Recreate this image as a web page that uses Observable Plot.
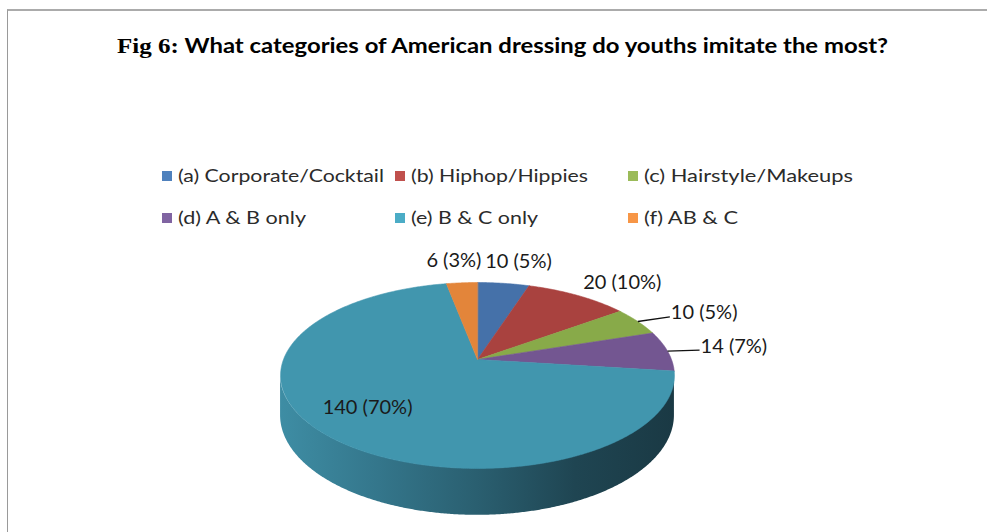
<!DOCTYPE html>
<html><head><meta charset="utf-8">
<script src="https://cdn.jsdelivr.net/npm/d3@7"></script>
<script src="https://cdn.jsdelivr.net/npm/@observablehq/plot@0.6"></script>
<style>
html,body{margin:0;padding:0;background:#fff;}
#page{position:relative;width:987px;height:532px;overflow:hidden;font-family:Lato,sans-serif;}
#frame{position:absolute;left:7px;top:9px;width:990px;height:600px;border-left:1px solid #9a9a9a;border-top:2px solid #ababab;}
#title{position:absolute;white-space:nowrap;font-weight:bold;color:#000;transform-origin:0 0;}
.fig{font-family:"Liberation Serif",serif;}
.leg{position:absolute;white-space:nowrap;color:#2b2b2b;transform-origin:0 0;}
.sw{position:absolute;width:10px;height:10px;}
#chart{position:absolute;left:0;}
</style></head><body><div id="page"><div id="frame"></div><div id="title"></div><div id="legend"></div><div id="chart"></div></div>
<script>
// ---- data ----
const categories = ["(a) Corporate/Cocktail", "(b) Hiphop/Hippies", "(c) Hairstyle/Makeups", "(d) A & B only", "(e) B & C only", "(f) AB & C"];
const counts = [10, 20, 10, 14, 140, 6];
const percents = [5, 10, 5, 7, 70, 3];
const legendColors = ["#4F81BD", "#C0504D", "#9BBB59", "#8064A2", "#4BACC6", "#F79646"];
const topColors = ["#4571a9", "#a9423f", "#88aa49", "#735691", "#4196ae", "#e3853a"];
const sideStops = ["#3e8da4", "#34768b", "#2a5f70", "#1f4552", "#1a3944"];
const titlePrefix = "Fig 6:";
const titleText = "What categories of American dressing do youths imitate the most?";
const labels = counts.map((c, i) => `${c} (${percents[i]}%)`);

// ---- layout ----
const L = {
  W: 987, cx: 477, cy: 359, r: 194, tilt: 0.465, persp: 0.172, depth: 0.2,
  svgTop: 240, svgH: 292,
  title: {x: 117, baseline: 53, width: 771, size: 21, figSize: 22},
  legend: {cols: [162, 395, 628], rows: [183, 225], textDx: 16, size: 16.5, widths: [206, 177, 209, 128, 127, 94]},
  labelSize: 20
};

// ---- title ----
const tEl = document.getElementById("title");
tEl.style.fontSize = L.title.size + "px";
tEl.style.lineHeight = L.title.size + "px";
const fig = document.createElement("span"); fig.className = "fig"; fig.style.fontSize = L.title.figSize + "px"; fig.textContent = titlePrefix;
tEl.appendChild(fig);
tEl.appendChild(document.createTextNode(" " + titleText));
tEl.style.left = L.title.x + "px";
tEl.style.top = (L.title.baseline - 0.887 * L.title.size) + "px";
tEl.style.transform = `scaleX(${L.title.width / tEl.getBoundingClientRect().width})`;

// ---- legend ----
const legEl = document.getElementById("legend");
categories.forEach((c, i) => {
  const col = L.legend.cols[i % 3], base = L.legend.rows[Math.floor(i / 3)];
  const sw = document.createElement("div"); sw.className = "sw";
  sw.style.background = legendColors[i]; sw.style.left = col + "px"; sw.style.top = (base - 12) + "px";
  legEl.appendChild(sw);
  const t = document.createElement("div"); t.className = "leg"; t.textContent = c;
  t.style.fontSize = L.legend.size + "px"; t.style.lineHeight = L.legend.size + "px";
  t.style.left = (col + L.legend.textDx) + "px"; t.style.top = (base - 0.887 * L.legend.size) + "px";
  legEl.appendChild(t);
  t.style.transform = `scaleX(${L.legend.widths[i] / t.getBoundingClientRect().width})`;
});

// ---- pie geometry (derived from the data) ----
const total = d3.sum(counts);
const TAU = 2 * Math.PI;
function proj(theta, r, drop = 0) {
  const c = Math.cos(theta), s = Math.sin(theta);
  const f = 1 / (1 + L.persp * r * c);
  return [r * s * f, -r * c * f * L.tilt + drop * f];
}
let acc = 0;
const slices = counts.map((v, i) => {
  const a0 = acc / total * TAU; acc += v; const a1 = acc / total * TAU;
  return {i, cat: categories[i], a0, a1, mid: (a0 + a1) / 2, frac: v / total};
});
const wedgePts = [];
for (const s of slices) {
  wedgePts.push({cat: s.cat, x: 0, y: 0});
  const n = Math.max(2, Math.ceil((s.a1 - s.a0) / (Math.PI / 360)));
  for (let k = 0; k <= n; k++) {
    const t = s.a0 + (s.a1 - s.a0) * k / n;
    const [x, y] = proj(t, 1);
    wedgePts.push({cat: s.cat, x, y});
  }
}
const thR = Math.acos(-L.persp), thL = TAU - thR;
const side = d3.range(0, 401).map(k => {
  const t = thR + (thL - thR) * k / 400;
  const [x, y] = proj(t, 1);
  const [, yb] = proj(t, 1, L.depth);
  return {x, y1: y, y2: yb};
});

const px = 1 / L.r;
const ctx = document.createElement("canvas").getContext("2d");
ctx.font = `${L.labelSize}px Lato`;
const midLabels = [], startLabels = [], leaders = [];
for (const s of slices) {
  const text = labels[s.i];
  if (s.frac > 0.5) {
    const [x, y] = proj(s.mid, 0.75);
    midLabels.push({x, y: y - 6 * px, text});
  } else if (Math.sin(s.mid) > 0.8) {
    const [x, y] = proj(s.mid, 1);
    const x2 = x + 32 * px, y2 = y - 10 * Math.cos(s.mid) * px;
    leaders.push({x1: x, y1: y, x2, y2});
    startLabels.push({x: x2 + 1 * px, y: y2 - 4 * px, text});
  } else {
    const [x, y] = proj(s.mid, 1);
    const d = Math.hypot(x, y), ux = x / d, uy = y / d;
    const w = ctx.measureText(text).width * px;
    midLabels.push({x: x + ux * (10 * px + 0.55 * w), y: y + uy * 21 * px - 1.5 * px, text});
  }
}

const svg = Plot.plot({
  width: L.W, height: L.svgH, margin: 0,
  style: {background: "transparent", overflow: "visible"},
  x: {domain: [-L.cx / L.r, (L.W - L.cx) / L.r], axis: null},
  y: {domain: [-(L.cy - L.svgTop) / L.r, (L.svgTop + L.svgH - L.cy) / L.r], range: [0, L.svgH], axis: null},
  color: {domain: categories, range: topColors},
  marks: [
    Plot.areaY(side, {x: "x", y1: "y1", y2: "y2", fill: "url(#sideGrad)"}),
    Plot.line(wedgePts, {x: "x", y: "y", z: "cat", fill: "cat", stroke: "cat", strokeWidth: 0.6, curve: "linear-closed"}),
    Plot.link(leaders, {x1: "x1", y1: "y1", x2: "x2", y2: "y2", stroke: "#111", strokeWidth: 1.3}),
    Plot.text(midLabels, {x: "x", y: "y", text: "text", fontSize: L.labelSize, fontFamily: "Lato", fill: "#1a1a1a", textAnchor: "middle"}),
    Plot.text(startLabels, {x: "x", y: "y", text: "text", fontSize: L.labelSize, fontFamily: "Lato", fill: "#1a1a1a", textAnchor: "start"})
  ]
});
const NS = "http://www.w3.org/2000/svg";
const defs = document.createElementNS(NS, "defs");
const grad = document.createElementNS(NS, "linearGradient");
grad.setAttribute("id", "sideGrad");
grad.setAttribute("x1", "0"); grad.setAttribute("y1", "0"); grad.setAttribute("x2", "1"); grad.setAttribute("y2", "0");
sideStops.forEach((c, i) => {
  const st = document.createElementNS(NS, "stop");
  st.setAttribute("offset", (i / (sideStops.length - 1)).toFixed(3));
  st.setAttribute("stop-color", c);
  grad.appendChild(st);
});
defs.appendChild(grad);
svg.insertBefore(defs, svg.firstChild);
const chart = document.getElementById("chart");
chart.style.top = L.svgTop + "px";
chart.appendChild(svg);
</script></body></html>
